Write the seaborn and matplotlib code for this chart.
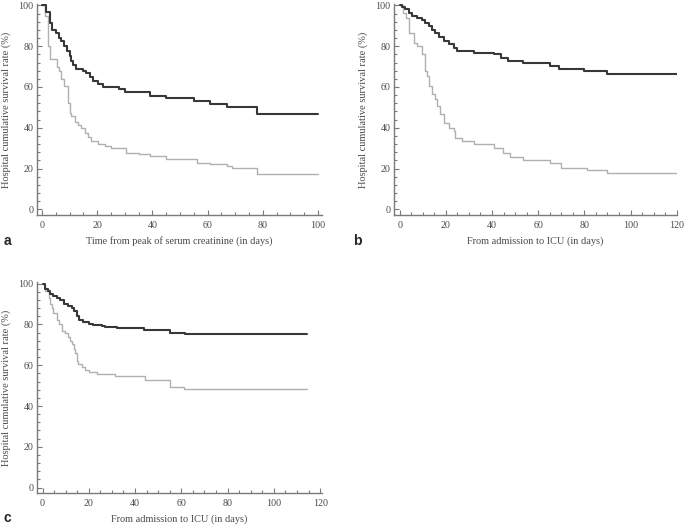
import matplotlib
matplotlib.use("Agg")
import matplotlib.pyplot as plt
from matplotlib.ticker import MultipleLocator
import seaborn as sns
import pandas as pd

sns.set_theme(style="ticks")
plt.rcParams['font.family'] = ['Liberation Serif', 'DejaVu Serif']

# ---------------------------------------------------------
# Kaplan-Meier step data (time in days, survival in %)
# ---------------------------------------------------------
# panel a: time from peak of serum creatinine
a_dark_t = [0, 1.6, 2.8, 3.6, 5.2, 6, 7, 8, 9.2, 10, 10.6, 11.2, 12.4, 14.8, 16, 17.3,
            18.5, 20.3, 22, 28, 30, 39, 45, 55, 61, 67, 78, 100]
a_dark_s = [100, 96.7, 91.2, 87.9, 86.6, 84, 82.5, 80, 77.6, 75, 72.7, 71, 68.6, 67.8, 66.7, 65,
            63, 61.3, 60, 58.8, 57.4, 55.8, 54.6, 53.2, 51.8, 50.3, 46.6, 46.6]
a_light_t = [0, 1.2, 2.2, 3, 5.6, 6, 7, 8, 9.4, 10, 10.6, 11.8, 13, 14.3, 15.5, 16.7, 17.9,
             20.3, 22.7, 25, 30.5, 35, 39, 45, 56, 61, 67, 69, 78, 100]
a_light_s = [100, 94.8, 80, 73.5, 70, 67.8, 63.7, 60.5, 52, 47, 45.8, 43, 41.2, 40, 37.6, 35.6, 33.5,
             31.9, 31, 30, 27.8, 27, 26, 24.5, 22.9, 22, 21, 20.4, 17.2, 17.2]

# panel b: from admission to ICU
b_dark_t = [0, 1, 2.5, 3.9, 5.3, 7.5, 9.7, 11, 12.6, 14, 15.5, 16.9, 19, 21.2, 23.4, 24.9,
            32, 40.8, 44, 47, 53.5, 65, 69, 80, 89.6, 120]
b_dark_s = [100, 99.2, 98.4, 96.4, 95, 94, 93, 91.5, 89.9, 88, 86.6, 84.6, 82.5, 80.9, 79.2, 77.6,
            76.8, 76, 74.3, 72.7, 71.6, 70.3, 68.6, 67.8, 66.2, 66.2]
b_light_t = [0, 1.4, 2.9, 3.9, 6, 7.5, 9.7, 11.1, 11.8, 12.6, 14, 15.5, 16.2, 17.6, 19, 21.2,
             23.4, 24.1, 27, 32, 40.8, 44.8, 47.7, 53.5, 65, 70, 81, 89.6, 120]
b_light_s = [100, 96.4, 94, 86.6, 81.7, 80, 76, 67.8, 65.4, 60.5, 56.4, 54, 50.7, 46.6, 42.5, 40,
             38.4, 35, 33.5, 32, 30.3, 27.5, 25.5, 24.2, 22.5, 20.4, 19.2, 17.8, 17.8]

# panel c: from admission to ICU
c_dark_t = [0, 1.2, 2.3, 3.3, 4.7, 6.2, 7.6, 9.1, 11.2, 12.7, 13.8, 14.8, 15.8, 17.7, 19.9,
            22, 25.6, 27, 32, 43.7, 55.2, 61.7, 114.3]
c_dark_s = [100, 97.4, 96.3, 95.1, 94.1, 93, 91.9, 90.2, 89.3, 88.1, 86.5, 84, 82.1, 81.1, 80.3,
            79.5, 79.2, 78.9, 78.4, 77.2, 75.9, 75.1, 75.1]
c_light_t = [0, 1.2, 2.6, 3.3, 4, 4.7, 6.2, 7.2, 8.3, 9.8, 11.2, 11.9, 12.7, 13.4, 14.1, 14.8,
             15.5, 17, 18.4, 19.9, 23.5, 31.4, 44.4, 55.2, 61, 114.3]
c_light_s = [100, 96.3, 93, 89.8, 88.1, 85.7, 82.4, 80, 76.7, 75.6, 74, 71.9, 70.2, 67.8, 66.2,
             62.2, 60.5, 58.9, 57.7, 56.7, 55.6, 54.6, 52.8, 49.5, 48.5, 48.5]

panel_letters = ['a', 'b', 'c']
x_labels = ['Time from peak of serum creatinine (in days)',
            'From admission to ICU (in days)',
            'From admission to ICU (in days)']
y_label = 'Hospital cumulative survival rate (%)'

DARK = '#383838'
LIGHT = '#b0b0b0'
AXIS = '#7a7a7a'
TEXT = '#4a4a4a'

fig = plt.figure(figsize=(6.85, 5.27), dpi=100)
# [left, bottom, width, height] in figure fraction
ax_a = fig.add_axes([0.054, 0.592, 0.416, 0.400])
ax_b = fig.add_axes([0.575, 0.592, 0.414, 0.400])
ax_c = fig.add_axes([0.054, 0.064, 0.416, 0.400])

panels = [
    (ax_a, a_dark_t, a_dark_s, a_light_t, a_light_s, (-1.8, 101.4)),
    (ax_b, b_dark_t, b_dark_s, b_light_t, b_light_s, (-2.5, 120.3)),
    (ax_c, c_dark_t, c_dark_s, c_light_t, c_light_s, (-2.4, 120.8)),
]

for i, (ax, dt, ds, lt, ls, xlim) in enumerate(panels):
    df_d = pd.DataFrame({'t': dt, 's': ds})
    df_l = pd.DataFrame({'t': lt, 's': ls})
    sns.lineplot(data=df_l, x='t', y='s', ax=ax, color=LIGHT, lw=1.0,
                 drawstyle='steps-post', estimator=None)
    sns.lineplot(data=df_d, x='t', y='s', ax=ax, color=DARK, lw=1.5,
                 drawstyle='steps-post', estimator=None)

    ax.set_xlim(*xlim)
    ax.set_ylim(-2.8, 100.6)
    ax.xaxis.set_major_locator(MultipleLocator(20))
    ax.xaxis.set_minor_locator(MultipleLocator(5))
    ax.yaxis.set_major_locator(MultipleLocator(20))
    ax.yaxis.set_minor_locator(MultipleLocator(4))
    ax.set_xticks([v for v in ax.get_xticks() if 0 <= v <= xlim[1]])
    ax.set_yticks([0, 20, 40, 60, 80, 100])

    sns.despine(ax=ax)
    for side in ['left', 'bottom']:
        ax.spines[side].set_color(AXIS)
        ax.spines[side].set_linewidth(1.0)
    ax.tick_params(which='both', direction='in', colors=AXIS, labelcolor=TEXT,
                   labelsize=7.2, width=0.8)
    ax.tick_params(which='major', length=3.6)
    ax.tick_params(which='minor', length=2.0)
    ax.tick_params(axis='y', pad=2.5)
    ax.tick_params(axis='x', pad=4)
    ax.grid(False)

    ax.set_xlabel(x_labels[i], fontsize=7.4, color=TEXT, labelpad=5)
    ax.set_ylabel(y_label, fontsize=7.5, color=TEXT, labelpad=5)

# panel letters
for letter, (x, y) in zip(panel_letters, [(7, 241), (357, 241), (7, 518)]):
    fig.text(x / 685, 1 - y / 527, letter, ha='center', va='center',
             fontsize=10, fontweight='bold', family=['Liberation Sans', 'DejaVu Sans'])

plt.savefig('out.png', dpi=100)
plt.close()
